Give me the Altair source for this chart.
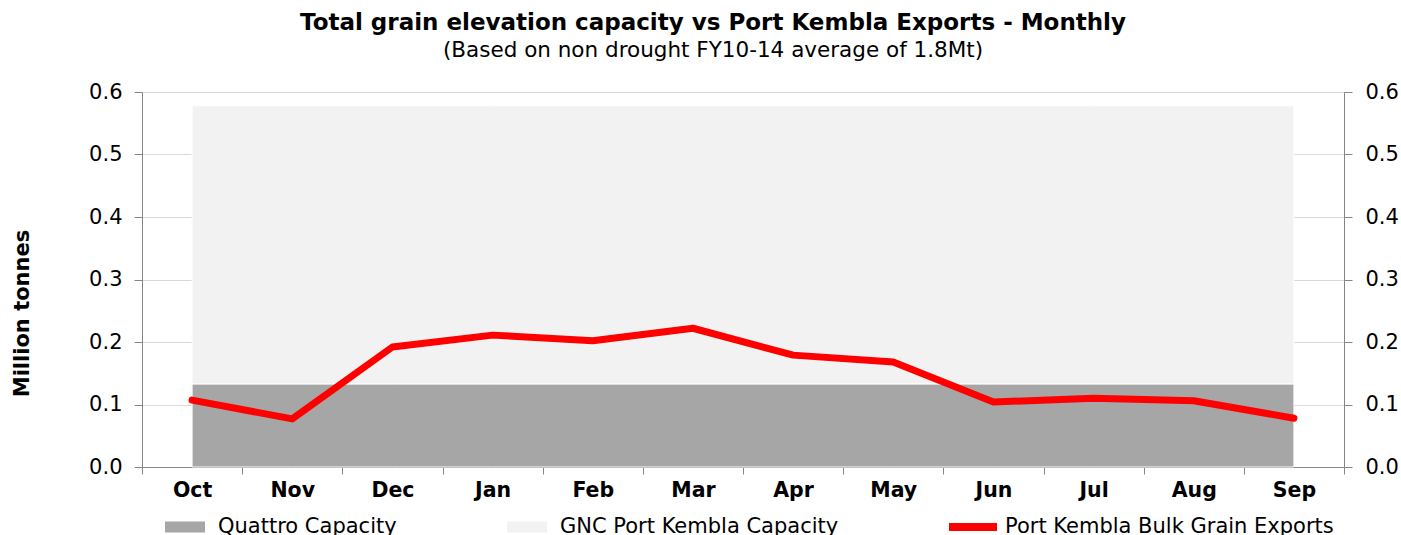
import altair as alt
import pandas as pd

months = ["Oct", "Nov", "Dec", "Jan", "Feb", "Mar", "Apr", "May", "Jun", "Jul", "Aug", "Sep"]
quattro = [0.133] * 12
gnc = [0.445] * 12
exports = [0.107, 0.077, 0.192, 0.211, 0.202, 0.222, 0.179, 0.168, 0.104, 0.110, 0.106, 0.078]

s_quattro = "Quattro Capacity"
s_gnc = "GNC Port Kembla Capacity"
s_exp = "Port Kembla Bulk Grain Exports"

rows = []
for m, q, g in zip(months, quattro, gnc):
    rows.append({"month": m, "series": s_quattro, "value": q, "ord": 0})
    rows.append({"month": m, "series": s_gnc, "value": g, "ord": 1})
area_df = pd.DataFrame(rows)
line_df = pd.DataFrame({"month": months, "value": exports, "series": [s_exp] * 12})

FONT = "DejaVu Sans"
AXC = "#868686"
yvals = [0, 0.1, 0.2, 0.3, 0.4, 0.5, 0.6]

xenc = alt.X(
    "month:N", sort=months, bandPosition=0.5,
    scale=alt.Scale(type="band", paddingInner=0, paddingOuter=0),
    axis=alt.Axis(title=None, tickBand="extent", labelFontWeight="bold", labelFontSize=20.5,
                  labelColor="black", labelPadding=6, tickSize=7, domainColor=AXC, tickColor=AXC,
                  labelAngle=0, grid=False, labelFont=FONT),
)

yscale = alt.Scale(domain=[0, 0.6], nice=False, zero=True)

area = alt.Chart(area_df).mark_area(opacity=1, stroke="white", strokeWidth=1).encode(
    x=xenc,
    y=alt.Y("value:Q", stack="zero", scale=yscale,
            axis=alt.Axis(title="Million tonnes", values=yvals, format=".1f",
                          labelFontSize=21, labelColor="black", labelFont=FONT, labelPadding=12,
                          tickSize=8, domainColor=AXC, tickColor=AXC, gridColor="#d9d9d9",
                          titleFontSize=21, titleFontWeight="bold", titleFont=FONT, titleColor="black",
                          titleAngle=-90, titleX=-120, titleY=221, titleAlign="center",
                          titleBaseline="middle")),
    color=alt.Color("series:N",
                    scale=alt.Scale(domain=[s_quattro, s_gnc], range=["#a6a6a6", "#f2f2f2"]),
                    legend=alt.Legend(title=None, orient="none", legendX=23, legendY=415,
                                      direction="horizontal", columns=2, columnPadding=110,
                                      symbolType="M-1,-0.28H1V0.28H-1Z", symbolSize=1600,
                                      symbolStrokeWidth=0, labelFontSize=21, labelFont=FONT,
                                      labelColor="black", labelOffset=13, labelLimit=400)),
    order=alt.Order("ord:Q"),
)

line = alt.Chart(line_df).mark_line(strokeWidth=7, strokeCap="round", strokeJoin="round").encode(
    x=xenc,
    y=alt.Y("value:Q", scale=yscale,
            axis=alt.Axis(title=None, orient="right", values=yvals,
                          format=".1f", labelFontSize=21, labelColor="black", labelFont=FONT,
                          labelPadding=13, tickSize=8, domainColor=AXC, tickColor=AXC, grid=False)),
    stroke=alt.Stroke("series:N", scale=alt.Scale(domain=[s_exp], range=["#ff0000"]),
                      legend=alt.Legend(title=None, orient="none", legendX=803, legendY=407,
                                        symbolType="stroke", symbolSize=2304, symbolStrokeWidth=8,
                                        labelFontSize=21, labelFont=FONT, labelColor="black",
                                        labelOffset=4, labelLimit=400)),
)

chart = alt.layer(area, line).resolve_scale(y="independent").properties(
    width=1202, height=375,
    title=alt.TitleParams(
        text="Total grain elevation capacity vs Port Kembla Exports - Monthly",
        subtitle="(Based on non drought FY10-14 average of 1.8Mt)",
        fontSize=23, fontWeight="bold", font=FONT, color="black",
        subtitleFontSize=21.5, subtitleFont=FONT, subtitleColor="black",
        anchor="middle", dx=-30, offset=20, subtitlePadding=5,
    ),
    autosize=alt.AutoSizeParams(type="none"),
    padding={"left": 142, "top": 92, "right": 57, "bottom": 68},
).configure_view(stroke=None).configure(background="white")

chart.save("out.html", embed_options={"renderer": "svg", "actions": False})
